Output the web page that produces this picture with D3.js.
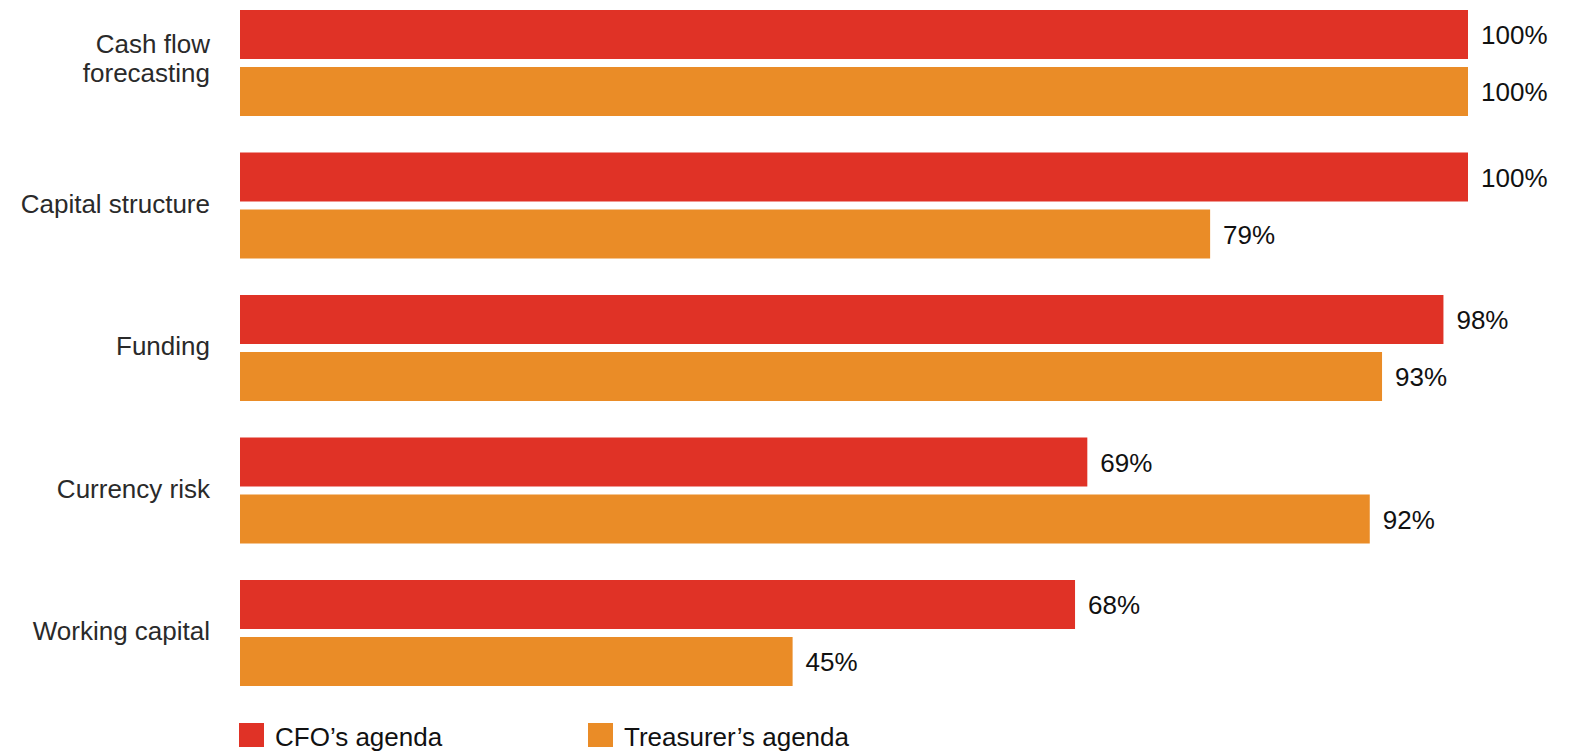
<!DOCTYPE html>
<html>
<head>
<meta charset="utf-8">
<script src="https://cdn.jsdelivr.net/npm/d3@7/dist/d3.min.js"></script>
<style>
  html, body { margin: 0; padding: 0; background: #fff; }
  svg { display: block; font-family: "Liberation Sans", Arial, Helvetica, sans-serif; }
</style>
</head>
<body>
<svg id="chart" width="1574" height="753"></svg>
<script>
// Share of respondents placing each topic on the agenda
const categories = ["Cash flow\nforecasting", "Capital structure", "Funding", "Currency risk", "Working capital"];
const seriesKeys = ["cfo", "treasurer"];
const seriesNames = ["CFO’s agenda", "Treasurer’s agenda"];
const cfoValues = [100, 100, 98, 69, 68];
const treasurerValues = [100, 79, 93, 92, 45];
const seriesColors = ["#e03226", "#ea8c27"];

const rows = categories.map((c, i) => ({
  category: c,
  values: [
    { key: "cfo", value: cfoValues[i] },
    { key: "treasurer", value: treasurerValues[i] }
  ]
}));

const svg = d3.select("#chart");

const x = d3.scaleLinear().domain([0, 100]).range([240, 1468]);
// group step 142.5px, each group holds two 49px bars with an 8px gap
const y0 = d3.scaleBand()
  .domain(categories)
  .range([10, 686])
  .paddingInner(36.5 / 142.5)
  .paddingOuter(0);
const y1 = d3.scaleBand()
  .domain(seriesKeys)
  .range([0, y0.bandwidth()])
  .paddingInner(8 / 57);
const color = d3.scaleOrdinal().domain(seriesKeys).range(seriesColors);

const groups = svg.append("g").selectAll("g")
  .data(rows)
  .join("g")
  .attr("transform", d => `translate(0,${y0(d.category)})`);

groups.selectAll("rect")
  .data(d => d.values)
  .join("rect")
  .attr("x", x(0))
  .attr("y", d => y1(d.key))
  .attr("width", d => x(d.value) - x(0))
  .attr("height", y1.bandwidth())
  .attr("fill", d => color(d.key));

groups.selectAll("text.value")
  .data(d => d.values)
  .join("text")
  .attr("class", "value")
  .attr("x", d => x(d.value) + 13)
  .attr("y", d => y1(d.key) + y1.bandwidth() / 2 + 9.5)
  .attr("font-size", 26)
  .attr("fill", "#111")
  .text(d => d.value + "%");

// Category labels, right aligned to the left of the bars
const lineHeight = 28.5;
svg.append("g").selectAll("text")
  .data(categories)
  .join("text")
  .attr("text-anchor", "end")
  .attr("font-size", 26)
  .attr("fill", "#2a2a2a")
  .each(function (c) {
    const lines = c.split("\n");
    const center = y0(c) + y0.bandwidth() / 2;
    const first = center + 7 - (lines.length - 1) * lineHeight / 2 - (lines.length > 1 ? 2.5 : 0);
    d3.select(this).selectAll("tspan")
      .data(lines)
      .join("tspan")
      .attr("x", 210)
      .attr("y", (l, i) => first + i * lineHeight)
      .text(l => l);
  });

// Legend
const legendX = [239, 588];
const legend = svg.append("g").selectAll("g")
  .data(seriesKeys)
  .join("g")
  .attr("transform", (d, i) => `translate(${legendX[i]},723)`);

legend.append("rect")
  .attr("width", 25)
  .attr("height", 24)
  .attr("fill", d => color(d));

legend.append("text")
  .attr("x", 36)
  .attr("y", 23)
  .attr("font-size", 26)
  .attr("fill", "#111")
  .text((d, i) => seriesNames[i]);
</script>
</body>
</html>
